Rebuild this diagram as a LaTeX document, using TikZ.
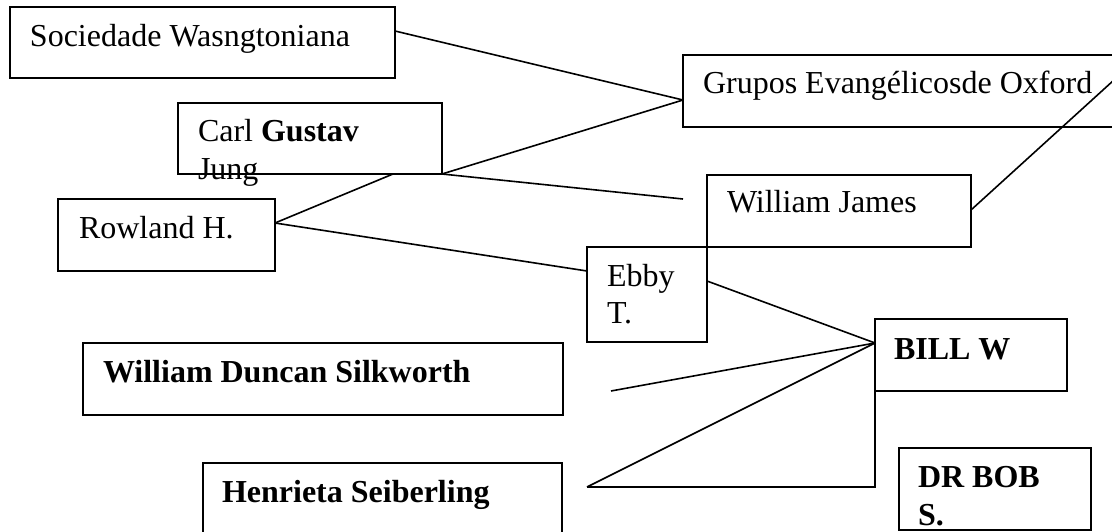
\documentclass[tikz,border=0pt]{standalone}
\usepackage{fontspec}
\setmainfont{Liberation Serif}
\begin{document}
\begin{tikzpicture}[x=1pt,y=-1pt,
  box/.style={draw, line width=1.9pt, inner sep=0pt, outer sep=0pt, rectangle},
  lbl/.style={anchor=base west, inner sep=0pt, outer sep=0pt, font=\fontsize{32}{37}\selectfont},
  conn/.style={line width=1.6pt}]
\fill[white] (0,0) rectangle (1112,532);
\clip (0,0) rectangle (1112,532);
% boxes
\node[box, minimum width=385, minimum height=71] (soc) at (202.5,42.5) {};
\node[box, minimum width=442, minimum height=72] (grp) at (904,91) {};
\node[box, minimum width=264, minimum height=71] (carl) at (310,138.5) {};
\node[box, minimum width=264, minimum height=72] (wj) at (839,211) {};
\node[box, minimum width=217, minimum height=72] (row) at (166.5,235) {};
\node[box, minimum width=120, minimum height=95] (ebby) at (647,294.5) {};
\node[box, minimum width=480, minimum height=72] (silk) at (323,379) {};
\node[box, minimum width=192, minimum height=72] (bill) at (971,355) {};
\node[box, minimum width=359, minimum height=82] (hen) at (382.5,504) {};
\node[box, minimum width=192, minimum height=82] (bob) at (995,489) {};
% labels
\node[lbl] (socT) at (30,47) {Sociedade Wasngtoniana};
\node[lbl] (grpT) at (703,94) {Grupos Evangélicosde Oxford};
\node[lbl] (carlT1) at (198,142) {Carl \textbf{Gustav}};
\node[lbl] (carlT2) at (198,180) {Jung};
\node[lbl] (wjT) at (727,213) {William James};
\node[lbl] (rowT) at (79,238) {Rowland H.};
\node[lbl] (ebbyT1) at (607,286) {Ebby};
\node[lbl] (ebbyT2) at (607,323) {T.};
\node[lbl] (silkT) at (103,382) {\textbf{William Duncan Silkworth}};
\node[lbl] (billT) at (894,359) {\textbf{BILL W}};
\node[lbl] (henT) at (222,502) {\textbf{Henrieta Seiberling}};
\node[lbl] (bobT1) at (918,487) {\textbf{DR BOB}};
\node[lbl] (bobT2) at (918,525) {\textbf{S.}};
% connector points
\coordinate (socR) at (395,31);
\coordinate (grpL) at (683,100);
\coordinate (carlB) at (393,174);
\coordinate (wjEnd) at (683,199);
\coordinate (rowR) at (275,223);
\coordinate (ebbyL) at (587,271);
\coordinate (ebbyR) at (707,281);
\coordinate (billL) at (875,343);
\coordinate (silkEnd) at (611,391);
\coordinate (apex) at (587,487);
\coordinate (corner) at (875,487);
\coordinate (wjR) at (971,210);
\coordinate (offR) at (1114,80);
% connectors
\draw[conn] (socR) -- (grpL);
\draw[conn] (carl.south east) -- (grpL);
\draw[conn] (carl.south east) -- (wjEnd);
\draw[conn] (rowR) -- (carlB);
\draw[conn] (rowR) -- (ebbyL);
\draw[conn] (ebbyR) -- (billL);
\draw[conn] (silkEnd) -- (billL);
\draw[conn] (apex) -- (billL);
\draw[conn] (apex) -- (corner) -- (bill.south west);
\draw[conn] (wjR) -- (offR);
\end{tikzpicture}
\end{document}
